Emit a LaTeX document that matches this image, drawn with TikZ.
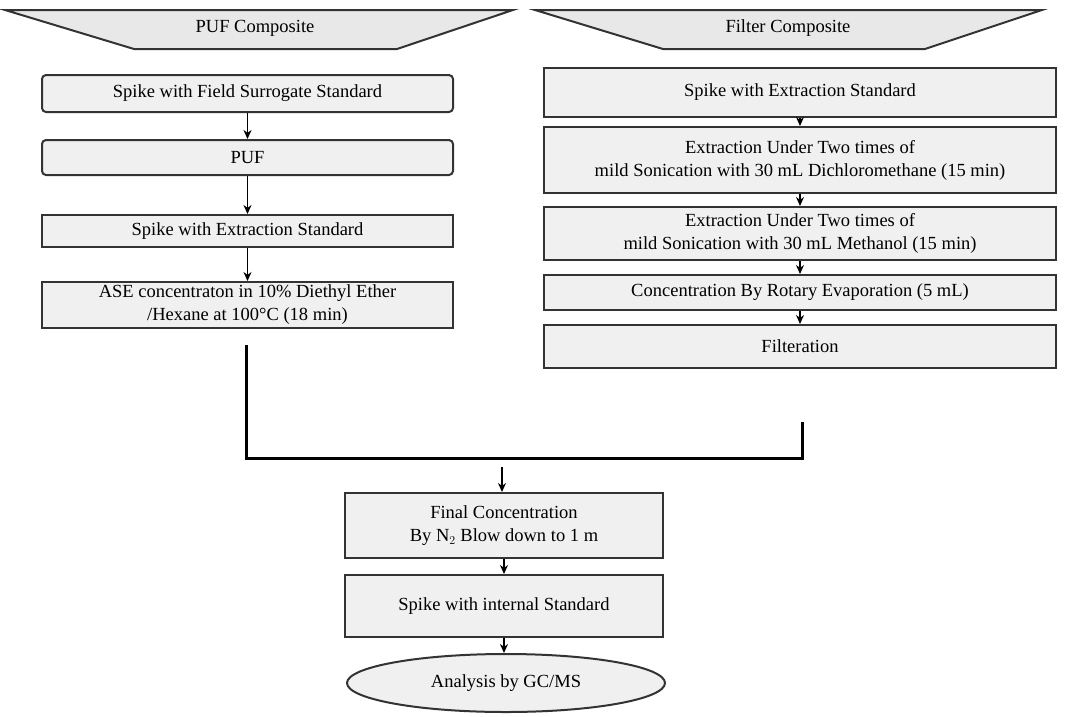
\documentclass[tikz,border=0pt]{standalone}
\usepackage{fontspec}
\setmainfont{Liberation Serif}
\usetikzlibrary{arrows.meta,shapes.geometric,calc}
\tikzset{
  x=1pt,y=-1pt,
  boxst/.style={draw=black!80,line width=2pt,fill=black!6,align=center,inner sep=2pt,font=\fontsize{18.5}{23}\selectfont},
  rboxst/.style={boxst,rounded corners=4pt},
  bannerst/.style={draw=black!80,line width=2pt,fill=black!9},
  arr/.style={-{Stealth[length=9pt,width=8pt]},line width=1.7pt,black},
  merge/.style={line width=3pt,black},
  lbl/.style={font=\fontsize{18.5}{23}\selectfont},
}
\begin{document}
\begin{tikzpicture}
\useasboundingbox (0,0) rectangle (1074,716);
% banners
\draw[bannerst] (5,10) -- (513,10) -- (397,49) -- (134,49) -- cycle;
\node[lbl] (bL) at (255,28) {PUF Composite};
\draw[bannerst] (535,10) -- (1042,10) -- (925,49) -- (663,49) -- cycle;
\node[lbl] (bR) at (788,28) {Filter Composite};
% left column
\node[rboxst,minimum width=411pt,minimum height=37pt] (L1) at (247.5,93.5) {Spike with Field Surrogate Standard};
\node[rboxst,minimum width=411pt,minimum height=35pt] (L2) at (247.5,157.5) {PUF};
\node[boxst,minimum width=411pt,minimum height=32pt] (L3) at (247.5,231) {Spike with Extraction Standard};
\node[boxst,minimum width=411pt,minimum height=46pt] (L4) at (247.5,305) {ASE concentraton in 10\% Diethyl Ether\\/Hexane at 100°C (18 min)};
\draw[arr] (L1) -- (L2);
\draw[arr] (L2) -- (L3);
\draw[arr] (L3) -- (L4);
% right column
\node[boxst,minimum width=512pt,minimum height=49pt] (R1) at (800,92.5) {Spike with Extraction Standard};
\node[boxst,minimum width=512pt,minimum height=66pt] (R2) at (800,160) {Extraction Under Two times of\\mild Sonication with 30 mL Dichloromethane (15 min)};
\node[boxst,minimum width=512pt,minimum height=53pt] (R3) at (800,233.5) {Extraction Under Two times of\\mild Sonication with 30 mL Methanol (15 min)};
\node[boxst,minimum width=512pt,minimum height=35pt] (R4) at (800,292.5) {Concentration By Rotary Evaporation (5 mL)};
\node[boxst,minimum width=512pt,minimum height=43pt] (R5) at (800,346.5) {Filteration};
\draw[arr] (R1) -- (R2);
\draw[arr] (R2) -- (R3);
\draw[arr] (R3) -- (R4);
\draw[arr] (R4) -- (R5);
% merge
\coordinate (lstart) at (246,345);
\coordinate (rstart) at (802,422);
\coordinate (mjoin) at (246,458);
\draw[merge] (lstart) -- (mjoin) -| (rstart);
% bottom
\node[boxst,minimum width=318pt,minimum height=65pt] (F1) at (504,525.5) {Final Concentration\\By N$_2$ Blow down to 1 m};
\node[boxst,minimum width=318pt,minimum height=62pt] (F2) at (504,606) {Spike with internal Standard};
\node[ellipse,draw=black!80,line width=2pt,fill=black!6,minimum width=318pt,minimum height=58pt,lbl] (E) at (506,683) {Analysis by GC/MS};
\coordinate (marr) at (502,467);
\draw[arr] (marr) -- (marr |- F1.north);
\draw[arr] (F1) -- (F2);
\draw[arr] (F2.south) -- (F2.south |- E.north);
\end{tikzpicture}
\end{document}
